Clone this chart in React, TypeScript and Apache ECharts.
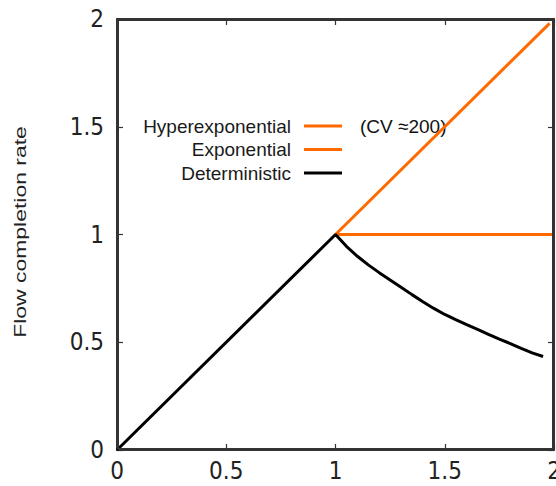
import React, { useEffect, useRef } from "react";
import * as echarts from "echarts";

// Axis range and tick step (both axes)
const axisMin = 0;
const axisMax = 2;
const tickStep = 0.5;

// Series names, in legend order
const seriesNames = ["Hyperexponential", "Exponential", "Deterministic"];
const seriesColors = ["#ff6a00", "#ff6a00", "#000000"];

// Hyperexponential (CV ≈ 200): follows the shared ramp up to 1, then keeps rising
const hyperX = [1, 1.98];
const hyperY = [1, 1.98];

// Exponential: flat after the knee
const expX = [1, 2];
const expY = [1, 1.0];

// Deterministic: ramp to 1, then decays
const detX = [
  0, 1, 1.05, 1.1, 1.15, 1.2, 1.25, 1.3, 1.35, 1.4, 1.45, 1.5,
  1.55, 1.6, 1.65, 1.7, 1.75, 1.8, 1.85, 1.9, 1.95,
];
const detY = [
  0, 1, 0.945, 0.899, 0.859, 0.823, 0.789, 0.755, 0.721, 0.688, 0.657, 0.629,
  0.605, 0.582, 0.56, 0.537, 0.515, 0.494, 0.472, 0.451, 0.434,
];

const yAxisTitle = "Flow completion rate";
const cvNote = "(CV \u2248200)";

const zip = (xs: number[], ys: number[]) => xs.map((x, i) => [x, ys[i]]);

const tickFont = "'Liberation Sans Narrow', 'DejaVu Sans Condensed', 'Arial Narrow', sans-serif";
const textFont = "'Liberation Sans', Arial, sans-serif";

// Plot box placement inside the 556×486 canvas
const GRID = { left: 117, top: 19, right: 2, bottom: 36 };
const CANVAS_W = 556;
const CANVAS_H = 486;
const FRAME_COLOR = "#333333";
const FRAME_WIDTH = 2;

export default function App() {
  const ref = useRef<HTMLDivElement>(null);

  useEffect(() => {
    if (!ref.current) return;
    const chart = echarts.init(ref.current, undefined, { renderer: "svg" });

    const makeAxis = (position: string, withLabels: boolean, margin: number) => ({
      type: "value",
      position,
      min: axisMin,
      max: axisMax,
      interval: tickStep,
      splitLine: { show: false },
      axisLine: { show: true, onZero: false, lineStyle: { color: FRAME_COLOR, width: FRAME_WIDTH } },
      axisTick: { show: true, inside: true, length: 6, lineStyle: { color: FRAME_COLOR, width: 1.2 } },
      axisLabel: withLabels
        ? { show: true, color: "#222", fontFamily: tickFont, fontSize: 24, margin }
        : { show: false },
    });

    const legendRows = [126, 149.5, 173];
    const legendGraphics: any[] = [];
    seriesNames.forEach((name, i) => {
      legendGraphics.push({
        type: "text",
        x: 291,
        y: legendRows[i],
        style: {
          text: name,
          align: "right",
          verticalAlign: "middle",
          fontFamily: textFont,
          fontSize: 19,
          fill: "#1a1a1a",
        },
      });
      legendGraphics.push({
        type: "line",
        shape: { x1: 304, y1: legendRows[i], x2: 342, y2: legendRows[i] },
        style: { stroke: seriesColors[i], lineWidth: 3 },
      });
    });

    const lineSeries = (idx: number, xs: number[], ys: number[], z: number, axisIdx: number) => ({
      name: seriesNames[idx],
      type: "line",
      xAxisIndex: axisIdx,
      yAxisIndex: axisIdx,
      data: zip(xs, ys),
      showSymbol: false,
      symbol: "none",
      lineStyle: { color: seriesColors[idx], width: 3 },
      itemStyle: { color: seriesColors[idx] },
      z,
    });

    // Frame corners, pulled half a stroke inside the plot box
    const x0 = GRID.left + 1;
    const y0 = GRID.top + 1;
    const x1 = CANVAS_W - GRID.right - 1;
    const y1 = CANVAS_H - GRID.bottom - 1;

    chart.setOption({
      animation: false,
      backgroundColor: "#ffffff",
      grid: {
        ...GRID,
        containLabel: false,
        outerBoundsMode: "none",
      },
      xAxis: [makeAxis("bottom", true, 9), makeAxis("top", false, 0)],
      yAxis: [makeAxis("left", true, 13), makeAxis("right", false, 0)],
      series: [
        lineSeries(1, expX, expY, 2, 1),
        lineSeries(0, hyperX, hyperY, 3, 1),
        lineSeries(2, detX, detY, 4, 0),
      ],
      graphic: [
        // closed frame around the plot
        {
          type: "polyline",
          silent: true,
          z: 100,
          shape: {
            points: [
              [x0, y1],
              [x0, y0],
              [x1, y0],
              [x1, y1],
              [x0, y1],
            ],
          },
          style: { stroke: FRAME_COLOR, lineWidth: FRAME_WIDTH, fill: null },
        },
        {
          type: "text",
          x: 20,
          y: 232,
          rotation: Math.PI / 2,
          scaleX: 1.35,
          style: {
            text: yAxisTitle,
            align: "center",
            verticalAlign: "middle",
            fontFamily: textFont,
            fontSize: 17,
            fill: "#222",
          },
        },
        ...legendGraphics,
        {
          type: "text",
          x: 360,
          y: legendRows[0],
          style: {
            text: cvNote,
            align: "left",
            verticalAlign: "middle",
            fontFamily: textFont,
            fontSize: 19,
            fill: "#111",
          },
        },
      ],
    });

    return () => chart.dispose();
  }, []);

  return (
    <div
      ref={ref}
      style={{ position: "fixed", left: 0, top: 0, width: CANVAS_W, height: CANVAS_H }}
    />
  );
}
